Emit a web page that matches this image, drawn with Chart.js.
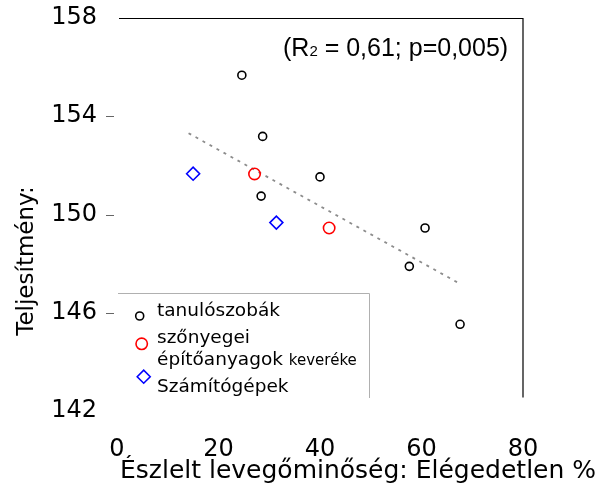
<!DOCTYPE html>
<html>
<head>
<meta charset="utf-8">
<script src="https://cdn.jsdelivr.net/npm/chart.js@4/dist/chart.umd.min.js"></script>
<style>
html,body{margin:0;padding:0;background:#fff;}
canvas{display:block;}
</style>
</head>
<body>
<canvas id="c" width="605" height="486"></canvas>
<script>
// ---- data ----
const xTicks = [0, 20, 40, 60, 80];
const yTicks = [142, 146, 150, 154, 158];
const tanuloX = [24.6, 28.7, 28.4, 40.0, 60.7, 57.6, 67.6];
const tanuloY = [155.67, 153.18, 150.75, 151.53, 149.45, 147.89, 145.53];
const szonyegX = [27.1, 41.8];
const szonyegY = [151.65, 149.45];
const gepX = [15.0, 31.4];
const gepY = [151.66, 149.67];
const trendX = [14.1, 67.75];
const trendY = [153.31, 147.16];
const seriesNames = ['tanulószobák', 'szőnyegei építőanyagok keveréke', 'Számítógépek'];
const xTitle = 'Észlelt levegőminőség: Elégedetlen %';
const yTitle = 'Teljesítmény:';

const pts = (xs, ys) => xs.map((x, i) => ({x: x, y: ys[i]}));

const deco = {
  id: 'deco',
  afterDraw(chart) {
    const ctx = chart.ctx;
    const a = chart.chartArea;
    const ys = chart.scales.y;
    ctx.save();
    // top and right border
    ctx.strokeStyle = '#000';
    ctx.lineWidth = 1.2;
    ctx.beginPath();
    ctx.moveTo(a.left + 2, a.top + 0.5);
    ctx.lineTo(a.right, a.top + 0.5);
    ctx.lineTo(a.right, ys.getPixelForValue(142.55));
    ctx.stroke();
    // small tick dashes
    ctx.strokeStyle = '#666';
    ctx.lineWidth = 1;
    [146, 150, 154].forEach(v => {
      const y = Math.round(ys.getPixelForValue(v)) + 0.5;
      ctx.beginPath();
      ctx.moveTo(a.left - 11, y);
      ctx.lineTo(a.left - 3, y);
      ctx.stroke();
    });
    // legend box
    ctx.strokeStyle = '#b0b0b0';
    ctx.lineWidth = 1;
    ctx.beginPath();
    ctx.moveTo(a.left + 1, 293.5);
    ctx.lineTo(369.5, 293.5);
    ctx.lineTo(369.5, 398);
    ctx.stroke();
    // legend markers
    const ds = chart.data.datasets;
    const mk = (d, x, y) => {
      ctx.strokeStyle = d.borderColor;
      ctx.fillStyle = 'rgba(0,0,0,0)';
      ctx.lineWidth = d.borderWidth;
      Chart.helpers.drawPoint(ctx, {pointStyle: d.pointStyle, radius: d.pointRadius, rotation: 0, borderWidth: d.borderWidth}, x, y);
    };
    mk(ds[0], 139.7, 316);
    mk(ds[1], 141.7, 343.8);
    mk(ds[2], 143.7, 376.7);
    // legend texts
    ctx.fillStyle = '#000';
    ctx.textAlign = 'left';
    ctx.textBaseline = 'alphabetic';
    ctx.font = '18.5px "DejaVu Sans"';
    ctx.fillText(seriesNames[0], 157, 316);
    const parts = seriesNames[1].split(' ');
    ctx.fillText(parts[0], 157, 343);
    ctx.fillText(parts[1], 157, 365);
    const w1 = ctx.measureText(parts[1] + ' ').width;
    ctx.font = '15px "DejaVu Sans"';
    ctx.fillText(parts[2], 157 + w1, 365);
    ctx.font = '18.5px "DejaVu Sans"';
    ctx.fillText(seriesNames[2], 157, 391.5);
    // axis titles
    ctx.font = '25px "DejaVu Sans"';
    ctx.fillText(xTitle, 120, 478);
    ctx.save();
    ctx.translate(33, 261);
    ctx.rotate(-Math.PI / 2);
    ctx.textAlign = 'center';
    ctx.font = '23px "DejaVu Sans"';
    ctx.fillText(yTitle, 0, 0);
    ctx.restore();
    // annotation
    let x = 283;
    const base = 55.5;
    ctx.font = '25px "Liberation Sans"';
    ctx.fillText('(R', x, base);
    x += ctx.measureText('(R').width;
    ctx.font = '15px "Liberation Sans"';
    ctx.fillText('2', x, base);
    x += ctx.measureText('2').width;
    ctx.font = '25px "Liberation Sans"';
    ctx.fillText(' = 0,61; p=0,005)', x, base);
    ctx.restore();
  }
};

new Chart(document.getElementById('c'), {
  type: 'scatter',
  data: {
    datasets: [
      {label: seriesNames[0], data: pts(tanuloX, tanuloY), pointStyle: 'circle', pointRadius: 4, borderColor: '#000', backgroundColor: 'rgba(0,0,0,0)', borderWidth: 1.6},
      {label: seriesNames[1], data: pts(szonyegX, szonyegY), pointStyle: 'circle', pointRadius: 5.7, borderColor: '#ff0000', backgroundColor: 'rgba(0,0,0,0)', borderWidth: 1.6},
      {label: seriesNames[2], data: pts(gepX, gepY), pointStyle: 'rectRot', pointRadius: 6.5, borderColor: '#0000ff', backgroundColor: 'rgba(0,0,0,0)', borderWidth: 1.6},
      {type: 'line', label: 'trend', data: pts(trendX, trendY), borderColor: '#8c8c8c', borderWidth: 1.8, borderDash: [3, 5], pointRadius: 0, fill: false}
    ]
  },
  options: {
    responsive: false,
    devicePixelRatio: 1,
    animation: false,
    layout: {padding: {top: 18, right: 82, left: 0, bottom: 0}},
    plugins: {legend: {display: false}, tooltip: {enabled: false}},
    scales: {
      x: {
        type: 'linear', min: xTicks[0], max: xTicks[xTicks.length - 1],
        afterBuildTicks: s => { s.ticks = xTicks.map(v => ({value: v})); },
        ticks: {color: '#000', font: {family: 'DejaVu Sans', size: 24}, padding: 24, maxRotation: 0},
        grid: {display: false, drawTicks: false},
        border: {display: false},
        afterFit: s => { s.height = 75; s.paddingLeft = 0; s.paddingRight = 0; }
      },
      y: {
        type: 'linear', min: yTicks[0], max: yTicks[yTicks.length - 1],
        afterBuildTicks: s => { s.ticks = yTicks.map(v => ({value: v})); },
        ticks: {color: '#000', font: {family: 'DejaVu Sans', size: 24}, padding: 20},
        grid: {display: false, drawTicks: false},
        border: {display: false},
        afterFit: s => { s.width = 117; s.paddingTop = 0; s.paddingBottom = 0; }
      }
    }
  },
  plugins: [deco]
});
</script>
</body>
</html>
